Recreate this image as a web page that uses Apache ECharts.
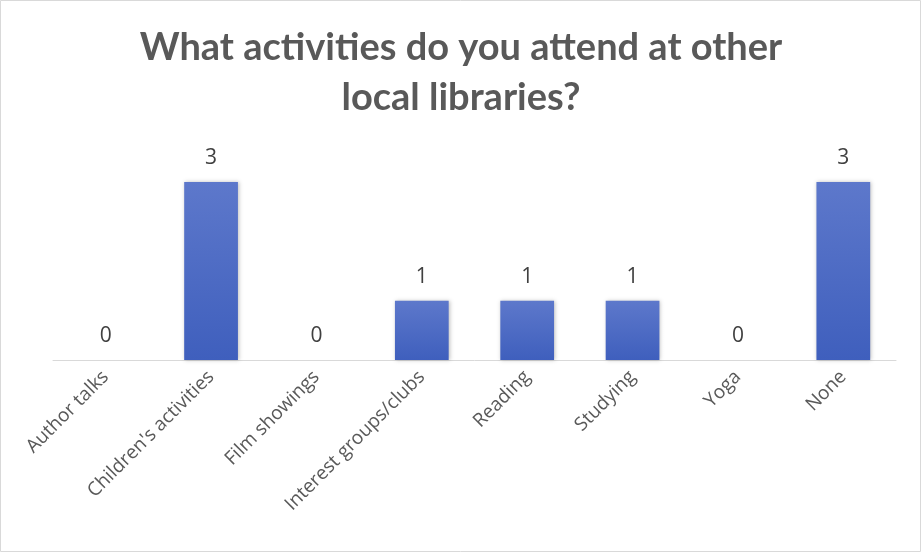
<!DOCTYPE html>
<html>
<head>
<meta charset="utf-8">
<script src="https://cdn.jsdelivr.net/npm/echarts@6/dist/echarts.min.js"></script>
<style>
html,body{margin:0;padding:0;background:#fff;}
#c{width:922px;height:554px;}
</style>
</head>
<body>
<div id="c"></div>
<script>
const titleText = "What activities do you attend at other\nlocal libraries?";
const categories = ["Author talks", "Children's activities", "Film showings", "Interest groups/clubs", "Reading", "Studying", "Yoga", "None"];
const counts = [0, 3, 0, 1, 1, 1, 0, 3];

const chart = echarts.init(document.getElementById('c'));
chart.setOption({
  backgroundColor: '#ffffff',
  animation: false,
  title: {
    text: titleText,
    left: 'center',
    top: 18,
    textStyle: {
      fontFamily: 'Lato',
      fontWeight: 'bold',
      fontSize: 38,
      lineHeight: 50,
      color: '#595959'
    }
  },
  graphic: [{
    type: 'rect',
    shape: {x: 0.5, y: 0.5, width: 920, height: 551},
    style: {fill: 'none', stroke: '#d9d9d9', lineWidth: 1},
    silent: true
  }],
  grid: {left: 53, right: 26, top: 182, bottom: 194, containLabel: false},
  xAxis: {
    type: 'category',
    data: categories,
    axisLine: {show: true, lineStyle: {color: '#d9d9d9', width: 1}},
    axisTick: {show: false},
    axisLabel: {
      rotate: 45,
      interval: 0,
      margin: 14,
      fontFamily: 'Open Sans',
      fontSize: 19,
      color: '#595959'
    }
  },
  yAxis: {
    type: 'value',
    min: 0,
    max: 3,
    show: false,
    splitLine: {show: false}
  },
  series: [{
    type: 'bar',
    data: counts,
    barWidth: '51%',
    itemStyle: {
      color: new echarts.graphic.LinearGradient(0, 0, 0, 1, [
        {offset: 0, color: '#5d78cb'},
        {offset: 1, color: '#3f5fbd'}
      ]),
      shadowColor: 'rgba(0,0,0,0.25)',
      shadowBlur: 4,
      shadowOffsetX: 1,
      shadowOffsetY: 0
    },
    label: {
      show: true,
      position: 'top',
      distance: 13,
      fontFamily: 'Open Sans',
      fontSize: 21,
      color: '#404040'
    }
  }]
});
</script>
</body>
</html>
